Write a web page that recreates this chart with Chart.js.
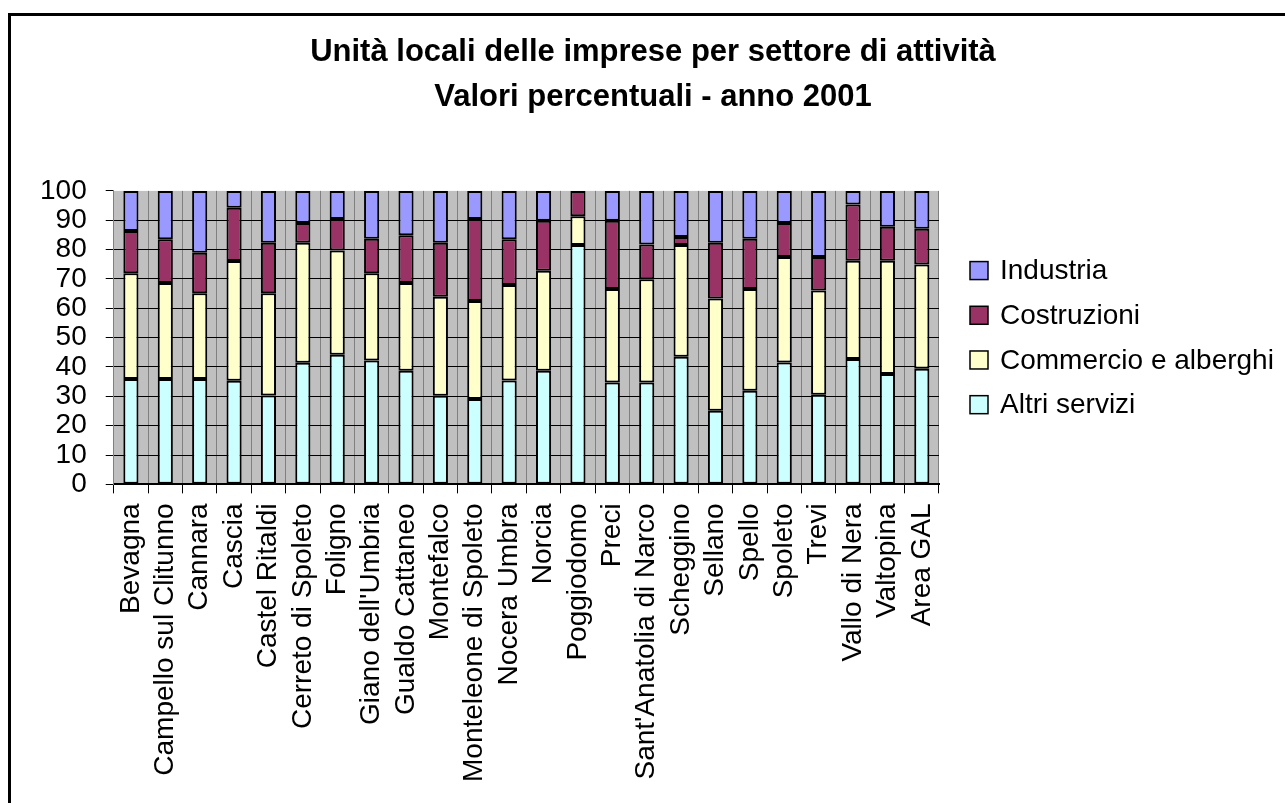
<!DOCTYPE html>
<html>
<head>
    <title>Unità locali delle imprese per settore di attività</title>
    <script src="https://cdn.jsdelivr.net/npm/chart.js"></script>
    <style>
        body {
            margin: 0;
            background-color: #fff;
            overflow: hidden;
        }
        .frame {
            position: absolute;
            left: 8px;
            top: 13px;
            width: 1400px;
            height: 900px;
            border: 3px solid #000;
        }
        #chartContainer {
            position: absolute;
            left: 0;
            top: 0;
            width: 1285px;
            height: 803px;
        }
    </style>
</head>
<body>
    <div class="frame"></div>
    <div id="chartContainer">
        <canvas id="sectorChart"></canvas>
    </div>

    <script>
        // Comuni dell'area GAL
        const comuni = [
            'Bevagna', 'Campello sul Clitunno', 'Cannara', 'Cascia', 'Castel Ritaldi',
            'Cerreto di Spoleto', 'Foligno', "Giano dell'Umbria", 'Gualdo Cattaneo',
            'Montefalco', 'Monteleone di Spoleto', 'Nocera Umbra', 'Norcia', 'Poggiodomo',
            'Preci', "Sant'Anatolia di Narco", 'Scheggino', 'Sellano', 'Spello', 'Spoleto',
            'Trevi', 'Vallo di Nera', 'Valtopina', 'Area GAL'
        ];

        // percentuali per settore (anno 2001)
        const altriServizi = [35.9, 35.9, 35.9, 35.3, 30.3, 41.4, 44.2, 42.2, 38.7, 30.2, 29.1, 35.4,
                              38.7, 81.6, 34.7, 34.7, 43.5, 25.1, 31.9, 41.5, 30.5, 42.7, 37.6, 39.4];
        const commercio = [36.0, 32.7, 29.2, 40.8, 34.8, 40.9, 35.5, 29.7, 29.9, 33.7, 33.4, 32.5,
                           34.1, 9.8, 31.9, 35.2, 38.1, 38.2, 34.7, 36.0, 35.6, 33.5, 38.6, 35.5];
        const costruzioni = [14.4, 14.9, 13.8, 18.2, 17.2, 6.8, 10.7, 11.8, 16.3, 18.4, 27.9, 15.6,
                             17.0, 8.6, 23.2, 11.8, 2.7, 19.0, 17.1, 11.6, 11.4, 19.2, 11.6, 12.2];
        const industria = [13.7, 16.5, 21.1, 5.7, 17.7, 10.9, 9.6, 16.3, 15.1, 17.7, 9.6, 16.5,
                           10.2, 0, 10.2, 18.3, 15.7, 17.7, 16.3, 10.9, 22.5, 4.6, 12.2, 12.9];

        const yTicks = [0, 10, 20, 30, 40, 50, 60, 70, 80, 90, 100];

        const FONT = "'Liberation Sans', Arial, sans-serif";

        // sfondo grigio dell'area del grafico
        const plotBackground = {
            id: 'plotBackground',
            beforeDraw(chart) {
                const a = chart.chartArea;
                const ctx = chart.ctx;
                ctx.save();
                ctx.fillStyle = '#C0C0C0';
                ctx.fillRect(a.left, a.top, a.right - a.left, a.bottom - a.top);
                ctx.restore();
            }
        };

        // legenda a destra, con la serie in cima alla pila per prima
        const sideLegend = {
            id: 'sideLegend',
            afterDraw(chart) {
                const a = chart.chartArea;
                const ctx = chart.ctx;
                const items = chart.data.datasets.slice().reverse();
                const step = 44.7;
                const midY = (a.top + a.bottom) / 2;
                const boxX = a.right + 31;
                ctx.save();
                ctx.font = '28px ' + FONT;
                ctx.textBaseline = 'middle';
                ctx.textAlign = 'left';
                items.forEach((ds, i) => {
                    const y = midY + (i - (items.length - 1) / 2) * step;
                    ctx.fillStyle = ds.backgroundColor;
                    ctx.fillRect(boxX, y - 9, 18, 18);
                    ctx.lineWidth = 1.5;
                    ctx.strokeStyle = '#000';
                    ctx.strokeRect(boxX, y - 9, 18, 18);
                    ctx.fillStyle = '#000';
                    ctx.fillText(ds.label, boxX + 30, y + 1);
                });
                ctx.restore();
            }
        };

        function serie(label, data, color) {
            return {
                label: label,
                data: data,
                backgroundColor: color,
                borderColor: '#000',
                borderWidth: 2,
                borderSkipped: false,
                categoryPercentage: 1.0,
                barPercentage: 0.44
            };
        }

        const ctx = document.getElementById('sectorChart').getContext('2d');
        new Chart(ctx, {
            type: 'bar',
            data: {
                labels: comuni,
                datasets: [
                    serie('Altri servizi', altriServizi, '#CCFFFF'),
                    serie('Commercio e alberghi', commercio, '#FFFFCC'),
                    serie('Costruzioni', costruzioni, '#993366'),
                    serie('Industria', industria, '#9999FF')
                ]
            },
            options: {
                responsive: true,
                maintainAspectRatio: false,
                animation: false,
                layout: {
                    padding: { left: 21, right: 0, top: 0, bottom: 11 }
                },
                plugins: {
                    title: {
                        display: true,
                        text: ['Unità locali delle imprese per settore di attività', 'Valori percentuali - anno 2001'],
                        color: '#000',
                        font: { family: FONT, size: 31, weight: 'bold', lineHeight: 1.45 },
                        padding: { top: 30, bottom: 71 }
                    },
                    legend: { display: false },
                    tooltip: { enabled: false }
                },
                scales: {
                    x: {
                        stacked: true,
                        grid: {
                            color: '#808080',
                            tickColor: '#000',
                            tickLength: 9,
                            offset: true
                        },
                        border: { color: '#000', width: 2 },
                        ticks: {
                            color: '#000',
                            font: { family: FONT, size: 28 },
                            minRotation: 90,
                            maxRotation: 90,
                            autoSkip: false,
                            padding: 10
                        }
                    },
                    y: {
                        stacked: true,
                        min: 0,
                        max: 100,
                        afterBuildTicks(scale) {
                            scale.ticks = yTicks.map(v => ({ value: v }));
                        },
                        grid: {
                            color: c => (c.tick && c.tick.value === 100 ? 'rgba(0,0,0,0)' : '#000'),
                            tickColor: '#000',
                            tickLength: 8
                        },
                        border: { color: '#808080', width: 1 },
                        ticks: {
                            color: '#000',
                            font: { family: FONT, size: 28 },
                            autoSkip: false,
                            padding: 19
                        }
                    },
                    // spazio riservato alla legenda
                    gap: {
                        axis: 'y',
                        position: 'right',
                        display: true,
                        grid: { display: false },
                        border: { display: false },
                        ticks: { display: false },
                        afterFit(scale) {
                            scale.width = 346;
                        }
                    }
                }
            },
            plugins: [plotBackground, sideLegend]
        });
    </script>
</body>
</html>
